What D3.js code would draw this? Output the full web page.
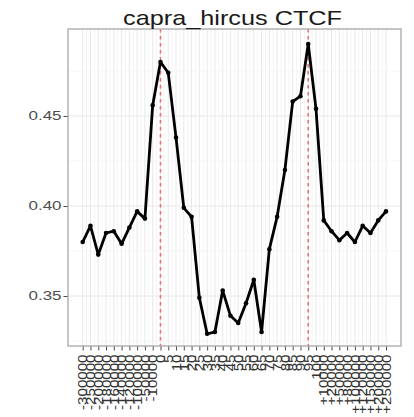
<!DOCTYPE html>
<html>
<head>
<meta charset="utf-8">
<script src="https://cdn.jsdelivr.net/npm/d3@7"></script>
<style>
  html, body { margin: 0; padding: 0; background: #fff; }
  svg { display: block; }
</style>
</head>
<body>
<svg id="chart" width="414" height="417"></svg>
<script>
// Mean CTCF signal along a scaled gene model: upstream flank, gene body (%), downstream flank
const positions = [
  "-300000", "-250000", "-200000", "-180000", "-160000", "-140000", "-120000", "-100000", "-50000", "-10000",
  "0", "5", "10", "15", "20", "25", "30", "35", "40", "45",
  "50", "55", "60", "65", "70", "75", "80", "85", "90", "95",
  "100", "+10000", "+20000", "+50000", "+80000", "+100000", "+120000", "+150000", "+200000", "+250000"
];
const signal = [
  0.380, 0.389, 0.373, 0.385, 0.386, 0.379, 0.388, 0.397, 0.393, 0.456,
  0.480, 0.474, 0.438, 0.399, 0.394, 0.349, 0.329, 0.330, 0.353, 0.339,
  0.335, 0.346, 0.359, 0.330, 0.376, 0.394, 0.420, 0.458, 0.461, 0.490,
  0.454, 0.392, 0.386, 0.381, 0.385, 0.380, 0.389, 0.385, 0.392, 0.397
];
const markerIdx = [10, 29];          // gene start / gene end
const yTicks = [0.35, 0.40, 0.45];
const yMinor = [0.325, 0.375, 0.425, 0.475];
const title = "capra_hircus CTCF";

const svg = d3.select("#chart");
const panel = { left: 68, right: 401, top: 29, bottom: 346 };

const x = d3.scaleLinear().domain([0, positions.length - 1]).range([82.7, 386]);
const y = d3.scaleLinear().domain([0.35, 0.45]).range([296, 116]);

// panel background
svg.append("rect")
  .attr("x", panel.left).attr("y", panel.top)
  .attr("width", panel.right - panel.left).attr("height", panel.bottom - panel.top)
  .attr("fill", "#fff");

const grid = svg.append("g");
// minor vertical grid between positions
grid.selectAll("line.vmin").data(d3.range(positions.length - 1)).join("line")
  .attr("x1", i => x(i + 0.5)).attr("x2", i => x(i + 0.5))
  .attr("y1", panel.top).attr("y2", panel.bottom)
  .attr("stroke", "#f2f2f2").attr("stroke-width", 0.8);
grid.selectAll("line.vmaj").data(d3.range(positions.length)).join("line")
  .attr("x1", i => x(i)).attr("x2", i => x(i))
  .attr("y1", panel.top).attr("y2", panel.bottom)
  .attr("stroke", "#e8e8e8").attr("stroke-width", 1);
grid.selectAll("line.hmin").data(yMinor).join("line")
  .attr("x1", panel.left).attr("x2", panel.right)
  .attr("y1", d => y(d)).attr("y2", d => y(d))
  .attr("stroke", "#f2f2f2").attr("stroke-width", 0.8);
grid.selectAll("line.hmaj").data(yTicks).join("line")
  .attr("x1", panel.left).attr("x2", panel.right)
  .attr("y1", d => y(d)).attr("y2", d => y(d))
  .attr("stroke", "#e8e8e8").attr("stroke-width", 1);

// dashed markers at gene boundaries
svg.selectAll("line.marker").data(markerIdx).join("line")
  .attr("x1", i => x(i)).attr("x2", i => x(i))
  .attr("y1", panel.top).attr("y2", panel.bottom)
  .attr("stroke", "#e8474f").attr("stroke-opacity", 0.75)
  .attr("stroke-width", 1.6).attr("stroke-dasharray", "3.5,3.5");

// signal line and points
const line = d3.line().x((d, i) => x(i)).y(d => y(d));
svg.append("path").datum(signal)
  .attr("d", line).attr("fill", "none")
  .attr("stroke", "#000").attr("stroke-width", 2.8)
  .attr("stroke-linejoin", "round");
svg.selectAll("circle.pt").data(signal).join("circle")
  .attr("cx", (d, i) => x(i)).attr("cy", d => y(d)).attr("r", 2.3)
  .attr("fill", "#000");

// panel border
svg.append("rect")
  .attr("x", panel.left).attr("y", panel.top)
  .attr("width", panel.right - panel.left).attr("height", panel.bottom - panel.top)
  .attr("fill", "none").attr("stroke", "#b3b3b3").attr("stroke-width", 1.5);

// y axis
const yAxis = d3.axisLeft(y).tickValues(yTicks).tickFormat(d3.format(".2f")).tickSize(4).tickPadding(2);
const gy = svg.append("g").attr("transform", `translate(${panel.left - 0.5},0)`).call(yAxis);
gy.select(".domain").remove();
gy.selectAll(".tick line").attr("stroke", "#4d4d4d");
gy.selectAll(".tick text")
  .attr("fill", "#4d4d4d")
  .style("font-family", "'Liberation Sans', Arial, sans-serif")
  .style("font-size", "12px")
  .attr("textLength", 33).attr("lengthAdjust", "spacingAndGlyphs");

// x axis
const xAxis = d3.axisBottom(x).tickValues(d3.range(positions.length)).tickFormat(i => positions[i]).tickSize(4).tickPadding(2);
const gx = svg.append("g").attr("transform", `translate(0,${panel.bottom + 0.5})`).call(xAxis);
gx.select(".domain").remove();
gx.selectAll(".tick line").attr("stroke", "#4d4d4d");
gx.selectAll(".tick text")
  .attr("fill", "#333")
  .style("font-family", "'Liberation Sans', Arial, sans-serif")
  .style("font-size", "12px")
  .attr("text-anchor", "end")
  .attr("dy", "0.35em")
  .attr("y", 0)
  .attr("transform", "translate(0,8) rotate(-90) scale(1.26,1)");

// title
svg.append("text")
  .attr("x", 232.5).attr("y", 25)
  .attr("text-anchor", "middle")
  .attr("fill", "#1a1a1a")
  .style("font-family", "'Liberation Sans', Arial, sans-serif")
  .style("font-size", "21px")
  .attr("textLength", 219).attr("lengthAdjust", "spacingAndGlyphs")
  .text(title);
</script>
</body>
</html>
